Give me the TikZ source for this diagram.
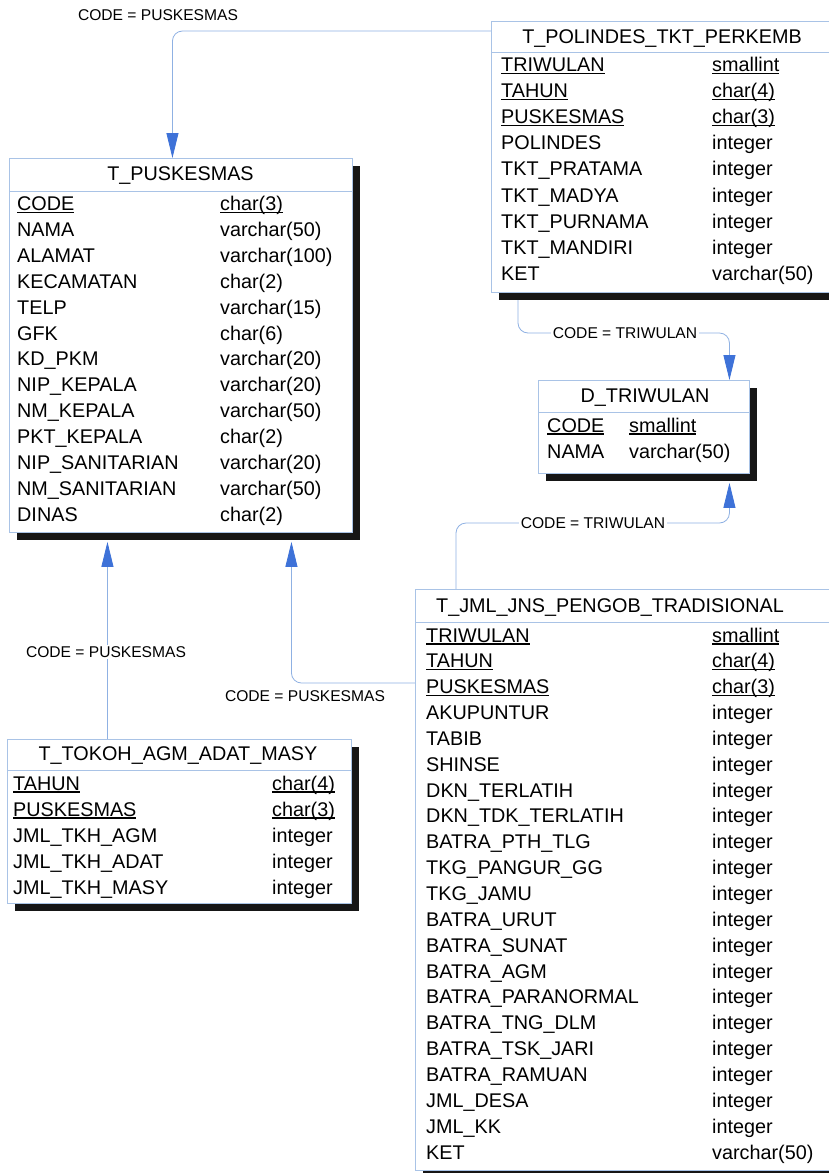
\documentclass[tikz,border=0pt]{standalone}
\usepackage{fontspec}
\setmainfont{Liberation Sans}
\usetikzlibrary{arrows.meta,shadows}
\definecolor{bordc}{HTML}{A9C3E6}
\definecolor{linkc}{HTML}{8FB1E3}
\definecolor{tipc}{HTML}{3E72D8}
\definecolor{shadc}{HTML}{161616}
% primary key columns: text with a rule just below the baseline
\newcommand\keyfld[1]{\setbox0\hbox{#1}\rlap{\rule[-2.6pt]{\wd0}{1.2pt}}\box0}
\pgfdeclarelayer{bg}
\pgfsetlayers{bg,main}
\tikzset{
  tbox/.style={draw=bordc, line width=0.9pt, fill=white, anchor=north west, inner sep=0pt,
    general shadow={shadow xshift=8pt, shadow yshift=-8pt, fill=shadc}},
  sep/.style={draw=bordc, line width=0.9pt},
  ttl/.style={anchor=base, inner sep=0pt, font=\fontsize{19.8}{22}\selectfont},
  fld/.style={anchor=base west, inner sep=0pt, font=\fontsize{19.8}{22}\selectfont},
  lbl/.style={fill=white, inner sep=1.5pt, font=\fontsize{15.6}{18}\selectfont},
  rel/.style={draw=linkc, line width=0.8pt, rounded corners=10pt},
  relto/.style={rel, -{Triangle[length=25pt,width=12pt,color=tipc]}},
}
\begin{document}
\begin{tikzpicture}[x=1pt,y=-1pt]
\useasboundingbox (0,0) rectangle (828,1173);

% ---------- T_PUSKESMAS ----------
\node[tbox, minimum width=343pt, minimum height=374pt] (pusk) at (9,158) {};
\draw[sep] ([yshift=-33pt]pusk.north west) -- ([yshift=-33pt]pusk.north east);
\node[ttl] (pusk-title) at (180.5,180) {T\_PUSKESMAS};
\foreach \n/\t [count=\i from 0] in {\keyfld{CODE}/\keyfld{char(3)}, NAMA/varchar(50),
    ALAMAT/varchar(100), KECAMATAN/char(2), TELP/varchar(15), GFK/char(6),
    KD\_PKM/varchar(20), NIP\_KEPALA/varchar(20), NM\_KEPALA/varchar(50),
    PKT\_KEPALA/char(2), NIP\_SANITARIAN/varchar(20), NM\_SANITARIAN/varchar(50),
    DINAS/char(2)}{
  \node[fld] (pusk-n\i) at (17,{210.5+25.9*\i}) {\n};
  \node[fld] (pusk-t\i) at (220,{210.5+25.9*\i}) {\t};
}

% ---------- T_POLINDES_TKT_PERKEMB ----------
\node[tbox, minimum width=345pt, minimum height=271pt] (poli) at (491,21) {};
\draw[sep] ([yshift=-31pt]poli.north west) -- ([yshift=-31pt]poli.north east);
\node[ttl] (poli-title) at (662,43) {T\_POLINDES\_TKT\_PERKEMB};
\foreach \n/\t [count=\i from 0] in {\keyfld{TRIWULAN}/\keyfld{smallint},
    \keyfld{TAHUN}/\keyfld{char(4)}, \keyfld{PUSKESMAS}/\keyfld{char(3)},
    POLINDES/integer, TKT\_PRATAMA/integer, TKT\_MADYA/integer,
    TKT\_PURNAMA/integer, TKT\_MANDIRI/integer, KET/varchar(50)}{
  \node[fld] (poli-n\i) at (501,{71.5+26.1*\i}) {\n};
  \node[fld] (poli-t\i) at (712,{71.5+26.1*\i}) {\t};
}

% ---------- D_TRIWULAN ----------
\node[tbox, minimum width=211pt, minimum height=93pt] (dtri) at (538,380) {};
\draw[sep] ([yshift=-32pt]dtri.north west) -- ([yshift=-32pt]dtri.north east);
\node[ttl] (dtri-title) at (645,402) {D\_TRIWULAN};
\node[fld] (dtri-n0) at (547,432) {\keyfld{CODE}};
\node[fld] (dtri-t0) at (629,432) {\keyfld{smallint}};
\node[fld] (dtri-n1) at (547,458.5) {NAMA};
\node[fld] (dtri-t1) at (629,458.5) {varchar(50)};

% ---------- T_JML_JNS_PENGOB_TRADISIONAL ----------
\node[tbox, minimum width=421pt, minimum height=581pt] (jml) at (415,589) {};
\draw[sep] ([yshift=-33pt]jml.north west) -- ([yshift=-33pt]jml.north east);
\node[ttl] (jml-title) at (610,612) {T\_JML\_JNS\_PENGOB\_TRADISIONAL};
\foreach \n/\t [count=\i from 0] in {\keyfld{TRIWULAN}/\keyfld{smallint},
    \keyfld{TAHUN}/\keyfld{char(4)}, \keyfld{PUSKESMAS}/\keyfld{char(3)},
    AKUPUNTUR/integer, TABIB/integer, SHINSE/integer, DKN\_TERLATIH/integer,
    DKN\_TDK\_TERLATIH/integer, BATRA\_PTH\_TLG/integer, TKG\_PANGUR\_GG/integer,
    TKG\_JAMU/integer, BATRA\_URUT/integer, BATRA\_SUNAT/integer, BATRA\_AGM/integer,
    BATRA\_PARANORMAL/integer, BATRA\_TNG\_DLM/integer, BATRA\_TSK\_JARI/integer,
    BATRA\_RAMUAN/integer, JML\_DESA/integer, JML\_KK/integer, KET/varchar(50)}{
  \node[fld] (jml-n\i) at (426,{642+25.85*\i}) {\n};
  \node[fld] (jml-t\i) at (712,{642+25.85*\i}) {\t};
}

% ---------- T_TOKOH_AGM_ADAT_MASY ----------
\node[tbox, minimum width=344pt, minimum height=164pt] (tok) at (7,739) {};
\draw[sep] ([yshift=-31pt]tok.north west) -- ([yshift=-31pt]tok.north east);
\node[ttl] (tok-title) at (178,760) {T\_TOKOH\_AGM\_ADAT\_MASY};
\foreach \n/\t [count=\i from 0] in {\keyfld{TAHUN}/\keyfld{char(4)},
    \keyfld{PUSKESMAS}/\keyfld{char(3)}, JML\_TKH\_AGM/integer,
    JML\_TKH\_ADAT/integer, JML\_TKH\_MASY/integer}{
  \node[fld] (tok-n\i) at (13,{790+26*\i}) {\n};
  \node[fld] (tok-t\i) at (272,{790+26*\i}) {\t};
}

% ---------- reference labels ----------
\node[lbl] (l1) at (158,15) {CODE = PUSKESMAS};
\node[lbl] (l2) at (625,333) {CODE = TRIWULAN};
\node[lbl] (l3) at (593,523) {CODE = TRIWULAN};
\node[lbl] (l4) at (305,696) {CODE = PUSKESMAS};

% ---------- white page and references, behind the tables ----------
\begin{pgfonlayer}{bg}
  \fill[white] (0,0) rectangle (828,1173);
  \draw[relto] ([yshift=-10pt]poli.north west) -| ([xshift=-8.5pt]pusk.north);
  \draw[relto] ([xshift=27pt]poli.south west) |- (l2) -| ([xshift=85.5pt]dtri.north);
  \draw[relto] ([xshift=41pt]jml.north west) |- (l3) -| ([xshift=85.5pt,yshift=-9pt]dtri.south);
  \draw[relto] ([yshift=-94pt]jml.north west) -| ([xshift=110.5pt,yshift=-9pt]pusk.south);
  \draw[relto] ([xshift=-72pt]tok.north) -- ([xshift=-73.5pt,yshift=-9pt]pusk.south);
\end{pgfonlayer}
\node[lbl] (l5) at (106,652) {CODE = PUSKESMAS};
\end{tikzpicture}
\end{document}
